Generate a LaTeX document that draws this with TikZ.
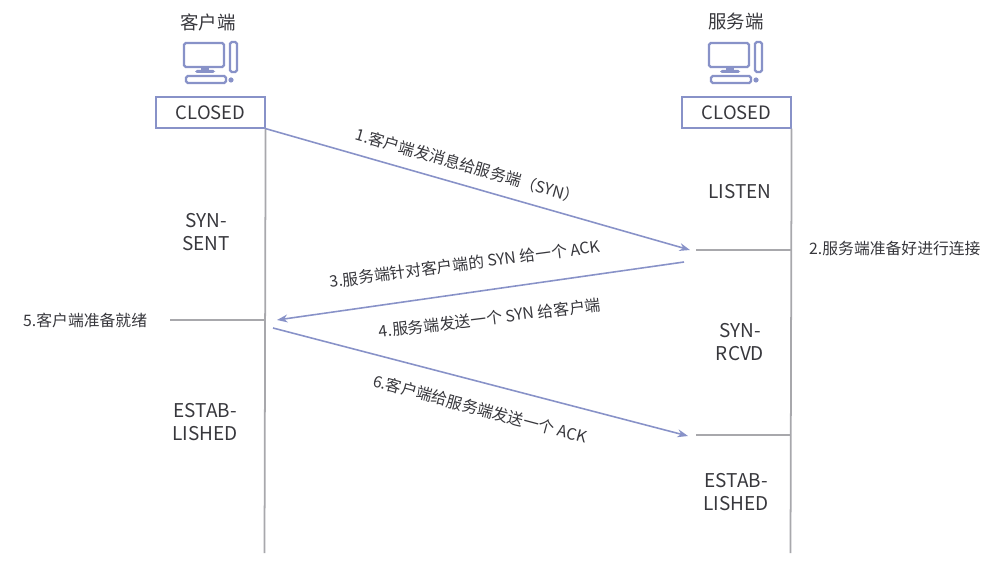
\documentclass[tikz,border=0pt]{standalone}
\usepackage{fontspec}
\setmainfont{Noto Sans CJK SC}
\usetikzlibrary{arrows.meta}
\definecolor{lilas}{RGB}{136,146,200}
\definecolor{ligne}{RGB}{168,168,172}
\definecolor{texte}{RGB}{55,55,60}

\begin{document}
\begin{tikzpicture}[x=0.02cm,y=-0.02cm]
\tikzstyle{fleche}=[-{Stealth[length=6pt,width=4.5pt]},lilas,line width=0.9pt]
\tikzstyle{vie}=[ligne,line width=1pt]
\tikzset{etat/.style={text=texte,font=\fontsize{10.8}{13.6}\selectfont,align=center},
etiquette/.style={text=texte,font=\fontsize{9}{11}\selectfont},
boite/.style={draw=lilas,line width=0.7pt,minimum width=2.18cm,minimum height=0.62cm,text=texte,font=\fontsize{10.5}{12}\selectfont},
icone/.style={lilas,line width=1.3pt,rounded corners=1pt}}
\useasboundingbox (0,0) rectangle (996,563);

% les deux postes
\foreach \d in {0,525}{
\begin{scope}[shift={(\d,0)}]
\draw[icone] (184,43) rectangle (224,67);
\fill[lilas] (201,67) rectangle (209,70);
\fill[lilas,rounded corners=1pt] (195,70) rectangle (215,73);
\draw[icone] (230,42) rectangle (237,72);
\draw[icone] (186,76) rectangle (226,83);
\fill[lilas] (231,80) circle (2.6);
\end{scope}
}

\node[etat,font=\fontsize{10.5}{12}\selectfont] (client) at (208,22) {客户端};
\node[etat,font=\fontsize{10.5}{12}\selectfont] (serveur) at (736,22) {服务端};
\node[boite] (B1) at (210.5,112.5) {CLOSED};
\node[boite] (B2) at (736.5,112.5) {CLOSED};

% lignes de vie
\coordinate (C9) at (264.5,553);
\coordinate (S9) at (790.5,553);
\draw[vie] (B1.south east) -- (C9);
\draw[vie] (B2.south east) -- (S9);

% etats
\node[etat] (E1) at (206,232) {SYN-\\SENT};
\node[etat] (E2) at (205,422) {ESTAB-\\LISHED};
\node[etat] (E3) at (740,192) {LISTEN};
\node[etat] (E4) at (740,342) {SYN-\\RCVD};
\node[etat] (E5) at (736,492) {ESTAB-\\LISHED};

% points des fleches
\coordinate (a1) at (B1.south east);
\coordinate (a2) at (690,250);
\coordinate (b1) at (684,262);
\coordinate (b2) at (277,320);
\coordinate (c1) at (273,328);
\coordinate (c2) at (688,436);
\coordinate (t1) at (696,250);
\coordinate (t2) at (790.5,250);
\coordinate (t3) at (170,320);
\coordinate (t4) at (264.5,320);
\coordinate (t5) at (696,435);
\coordinate (t6) at (790.5,435);

\draw[fleche] (a1) -- (a2);
\draw[fleche] (b1) -- (b2);
\draw[fleche] (c1) -- (c2);
\draw[vie] (t1) -- (t2);
\draw[vie] (t3) -- (t4);
\draw[vie] (t5) -- (t6);

\node[etiquette,rotate=-16] (M1) at (468,166) {1.客户端发消息给服务端（SYN）};
\node[etiquette,rotate=7.5] (M3) at (465,264) {3.服务端针对客户端的 SYN 给一个 ACK};
\node[etiquette,rotate=7] (M4) at (490,318) {4.服务端发送一个 SYN 给客户端};
\node[etiquette,rotate=-15] (M6) at (480,409) {6.客户端给服务端发送一个 ACK};
\node[etiquette,anchor=west] (M2) at (803,248) {2.服务端准备好进行连接};
\node[etiquette,anchor=west] (M5) at (17,320) {5.客户端准备就绪};

\end{tikzpicture}
\end{document}
